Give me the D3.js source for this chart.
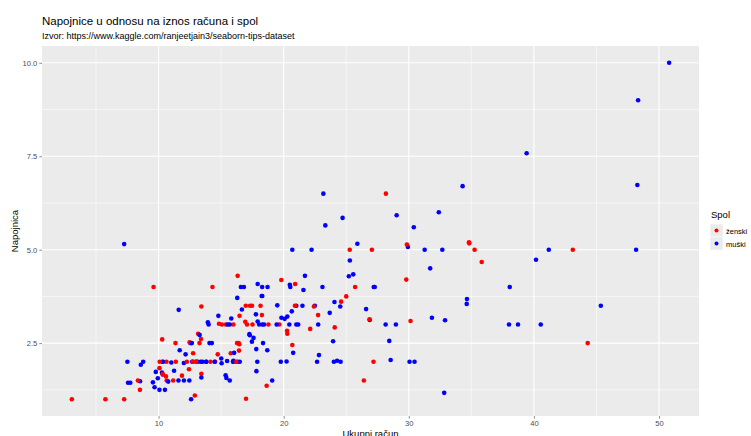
<!DOCTYPE html>
<html><head><meta charset="utf-8">
<script src="https://cdn.jsdelivr.net/npm/d3@7"></script>
<style>body{margin:0;background:#fff}svg{display:block;font-family:"Liberation Sans",Arial,sans-serif}</style>
</head><body><svg id="c" width="751" height="436"></svg>
<script>
const totalBill=[16.99,10.34,21.01,23.68,24.59,25.29,8.77,26.88,15.04,14.78,10.27,35.26,15.42,18.43,14.83,21.58,10.33,16.29,16.97,20.65,17.92,20.29,15.77,39.42,19.82,17.81,13.37,12.69,21.7,19.65,9.55,18.35,15.06,20.69,17.78,24.06,16.31,16.93,18.69,31.27,16.04,17.46,13.94,9.68,30.4,18.29,22.23,32.4,28.55,18.04,12.54,10.29,34.81,9.94,25.56,19.49,38.01,26.41,11.24,48.27,20.29,13.81,11.02,18.29,17.59,20.08,16.45,3.07,20.23,15.01,12.02,17.07,26.86,25.28,14.73,10.51,17.92,27.2,22.76,17.29,19.44,16.66,10.07,32.68,15.98,34.83,13.03,18.28,24.71,21.16,28.97,22.49,5.75,16.32,22.75,40.17,27.28,12.03,21.01,12.46,11.35,15.38,44.3,22.42,20.92,15.36,20.49,25.21,18.24,14.31,14.0,7.25,38.07,23.95,25.71,17.31,29.93,10.65,12.43,24.08,11.69,13.42,14.26,15.95,12.48,29.8,8.52,14.52,11.38,22.82,19.08,20.27,11.17,12.26,18.26,8.51,10.33,14.15,16.0,13.16,17.47,34.3,41.19,27.05,16.43,8.35,18.64,11.87,9.78,7.51,14.07,13.13,17.26,24.55,19.77,29.85,48.17,25.0,13.39,16.49,21.5,12.66,16.21,13.81,17.51,24.52,20.76,31.71,10.59,10.63,50.81,15.81,7.25,31.85,16.82,32.9,17.89,14.48,9.6,34.63,34.65,23.33,45.35,23.17,40.55,20.69,20.9,30.46,18.15,23.1,15.69,19.81,28.44,15.48,16.58,7.56,10.34,43.11,13.0,13.51,18.71,12.74,13.0,16.4,20.53,16.47,26.59,38.73,24.27,12.76,30.06,25.89,48.33,13.27,28.17,12.9,28.15,11.59,7.74,30.14,12.16,13.42,8.58,15.98,13.42,16.27,10.09,20.45,13.28,22.12,24.01,15.69,11.61,10.77,15.53,10.07,12.6,32.83,35.83,29.03,27.18,22.67,17.82,18.78];
const tip=[1.01,1.66,3.5,3.31,3.61,4.71,2.0,3.12,1.96,3.23,1.71,5.0,1.57,3.0,3.02,3.92,1.67,3.71,3.5,3.35,4.08,2.75,2.23,7.58,3.18,2.34,2.0,2.0,4.3,3.0,1.45,2.5,3.0,2.45,3.27,3.6,2.0,3.07,2.31,5.0,2.24,2.54,3.06,1.32,5.6,3.0,5.0,6.0,2.05,3.0,2.5,2.6,5.2,1.56,4.34,3.51,3.0,1.5,1.76,6.73,3.21,2.0,1.98,3.76,2.64,3.15,2.47,1.0,2.01,2.09,1.97,3.0,3.14,5.0,2.2,1.25,3.08,4.0,3.0,2.71,3.0,3.4,1.83,5.0,2.03,5.17,2.0,4.0,5.85,3.0,3.0,3.5,1.0,4.3,3.25,4.73,4.0,1.5,3.0,1.5,2.5,3.0,2.5,3.48,4.08,1.64,4.06,4.29,3.76,4.0,3.0,1.0,4.0,2.55,4.0,3.5,5.07,1.5,1.8,2.92,2.31,1.68,2.5,2.0,2.52,4.2,1.48,2.0,2.0,2.18,1.5,2.83,1.5,2.0,3.25,1.25,2.0,2.0,2.0,2.75,3.5,6.7,5.0,5.0,2.3,1.5,1.36,1.63,1.73,2.0,2.5,2.0,2.74,2.0,2.0,5.14,5.0,3.75,2.61,2.0,3.5,2.5,2.0,2.0,3.0,3.48,2.24,4.5,1.61,2.0,10.0,3.16,5.15,3.18,4.0,3.11,2.0,2.0,4.0,3.55,3.68,5.65,3.5,6.5,3.0,5.0,3.5,2.0,3.5,4.0,1.5,4.19,2.56,2.02,4.0,1.44,2.0,5.0,2.0,2.0,4.0,2.01,2.0,2.5,4.0,3.23,3.41,3.0,2.03,2.23,2.0,5.16,9.0,2.5,6.5,1.1,3.0,1.5,1.44,3.09,2.2,3.48,1.92,3.0,1.58,2.5,2.0,3.0,2.72,2.88,2.0,3.0,3.39,1.47,3.0,1.25,1.0,1.17,4.67,5.92,2.0,2.0,1.75,3.0];
const sex=["FMMMFMMMMM","MFMMFMFMFM","MFFMMMMMMF","MMFFMMMFMM","MMMMMMMMMM",
 "MFFMMMMFMM","MMMMMMFFMM","MFFFFMMMMM","MMFMMFMMMM","MMFFFMMMMM",
 "FFFFFMMMMF","MFMMFFMFFF","MFMMFFMFFM","MFFFFFFFMF","FMMFFFFFMM",
 "MMMMMFMFFM","MMFMFMMMFF","MMMMMMMMFM","MMMMMMFMFM","MFMMMMMFFM",
 "MFFFMFMMMF","MMMFFFMMMF","MFMFMFFMMF","MMMMMMMMFM","FMMF"].join("").split("");
const xTicks=[10,20,30,40,50];
const yTicks=[2.5,5.0,7.5,10.0];
const legendKeys=["F","M"];
const legendLabels=["ženski","muški"];
const colors={F:"#ff0000",M:"#0000ff"};

const svg=d3.select("#c");
const L=42,R=699,T=46,B=416;
const xe=d3.extent(totalBill), ye=d3.extent(tip);
const xp=(xe[1]-xe[0])*0.05, yp=(ye[1]-ye[0])*0.05;
const x=d3.scaleLinear().domain([xe[0]-xp,xe[1]+xp]).range([L,R]);
const y=d3.scaleLinear().domain([ye[0]-yp,ye[1]+yp]).range([B,T]);

svg.append("rect").attr("x",L).attr("y",T).attr("width",R-L).attr("height",B-T).attr("fill","#ebebeb");
const xMinor=[5,15,25,35,45], yMinor=[1.25,3.75,6.25,8.75];
const g=svg.append("g");
g.selectAll(".xm").data(xMinor).enter().append("line").attr("x1",d=>x(d)).attr("x2",d=>x(d)).attr("y1",T).attr("y2",B).attr("stroke","#fff").attr("stroke-width",0.55);
g.selectAll(".ym").data(yMinor).enter().append("line").attr("y1",d=>y(d)).attr("y2",d=>y(d)).attr("x1",L).attr("x2",R).attr("stroke","#fff").attr("stroke-width",0.55);
g.selectAll(".xM").data(xTicks).enter().append("line").attr("x1",d=>x(d)).attr("x2",d=>x(d)).attr("y1",T).attr("y2",B).attr("stroke","#fff").attr("stroke-width",1.1);
g.selectAll(".yM").data(yTicks).enter().append("line").attr("y1",d=>y(d)).attr("y2",d=>y(d)).attr("x1",L).attr("x2",R).attr("stroke","#fff").attr("stroke-width",1.1);

const xa=svg.append("g").attr("transform",`translate(0,${B})`).call(d3.axisBottom(x).tickValues(xTicks).tickFormat(d3.format("d")).tickSize(2.7).tickPadding(2));
const ya=svg.append("g").attr("transform",`translate(${L},0)`).call(d3.axisLeft(y).tickValues(yTicks).tickFormat(d3.format(".1f")).tickSize(2.7).tickPadding(2));
[xa,ya].forEach(a=>{a.select(".domain").remove();a.selectAll(".tick line").attr("stroke","#333").attr("stroke-width",0.55);a.selectAll("text").attr("fill","#4d4d4d").attr("font-size","7.6px").attr("font-family","Liberation Sans, Arial, sans-serif");});

svg.append("g").selectAll("circle").data(totalBill.map((v,i)=>({x:v,y:tip[i],s:sex[i]}))).enter().append("circle")
 .attr("cx",d=>x(d.x)).attr("cy",d=>y(d.y)).attr("r",2.3).attr("fill",d=>colors[d.s]);

svg.append("text").attr("x",L).attr("y",25).attr("font-size","11.5px").attr("fill","#000").text("Napojnice u odnosu na iznos računa i spol");
svg.append("text").attr("x",L).attr("y",39).attr("font-size","9px").attr("fill","#000").text("Izvor: https://www.kaggle.com/ranjeetjain3/seaborn-tips-dataset");
svg.append("text").attr("x",(L+R)/2).attr("y",437).attr("text-anchor","middle").attr("font-size","9.5px").text("Ukupni račun");
svg.append("text").attr("transform",`translate(18,${(T+B)/2}) rotate(-90)`).attr("text-anchor","middle").attr("font-size","9.5px").text("Napojnica");

const lg=svg.append("g");
lg.append("text").attr("x",711).attr("y",218).attr("font-size","9.5px").text("Spol");
legendKeys.forEach((k,i)=>{
  const yy=224+i*13;
  lg.append("rect").attr("x",710).attr("y",yy).attr("width",13).attr("height",13).attr("fill","#ebebeb").attr("stroke","#fff").attr("stroke-width",0.5);
  lg.append("circle").attr("cx",716.5).attr("cy",yy+6.5).attr("r",2).attr("fill",colors[k]);
  lg.append("text").attr("x",726).attr("y",yy+9.5).attr("font-size","7.5px").text(legendLabels[i]);
});
</script></body></html>
